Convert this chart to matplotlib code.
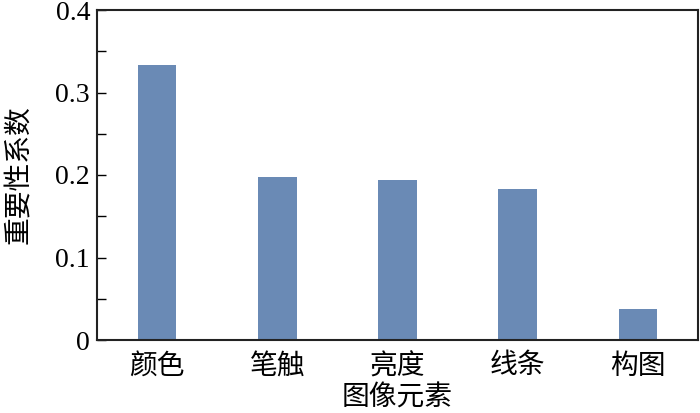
import matplotlib
matplotlib.use("Agg")
import matplotlib.pyplot as plt
from matplotlib.ticker import FixedLocator

plt.rcParams['font.family'] = ['Liberation Serif', 'Noto Sans CJK SC', 'DejaVu Sans']

categories = ["颜色", "笔触", "亮度", "线条", "构图"]
values = [0.333, 0.197, 0.194, 0.183, 0.037]
yticks = [0, 0.1, 0.2, 0.3, 0.4]
ytick_labels = ["0", "0.1", "0.2", "0.3", "0.4"]
xlabel = "图像元素"
ylabel = "重要性系数"

fig = plt.figure(figsize=(7.0, 4.13), dpi=100)
ax = fig.add_axes([97/700, 73/413, 601/700, 330/413])

x = list(range(len(categories)))
ax.bar(x, values, width=0.32, color="#6a8ab5")

ax.set_xlim(-0.5, len(categories) - 0.5)
ax.set_ylim(0, 0.4)
ax.set_xticks(x)
ax.set_xticklabels(categories, fontsize=20, fontweight='light')
ax.set_yticks(yticks)
ax.set_yticklabels(ytick_labels, fontsize=20)
ax.yaxis.set_minor_locator(FixedLocator([0.05, 0.15, 0.25, 0.35]))

ax.tick_params(axis='y', which='both', direction='in', length=6.5, width=1.0, pad=5)
ax.tick_params(axis='x', which='both', length=0, pad=10)

for s in ax.spines.values():
    s.set_linewidth(1.5)
    s.set_color("#222222")

ax.set_xlabel(xlabel, fontsize=20, labelpad=4, fontweight='light')
ax.set_ylabel(ylabel, fontsize=20, labelpad=16, fontweight='light')

fig.savefig("out.png", dpi=100)
